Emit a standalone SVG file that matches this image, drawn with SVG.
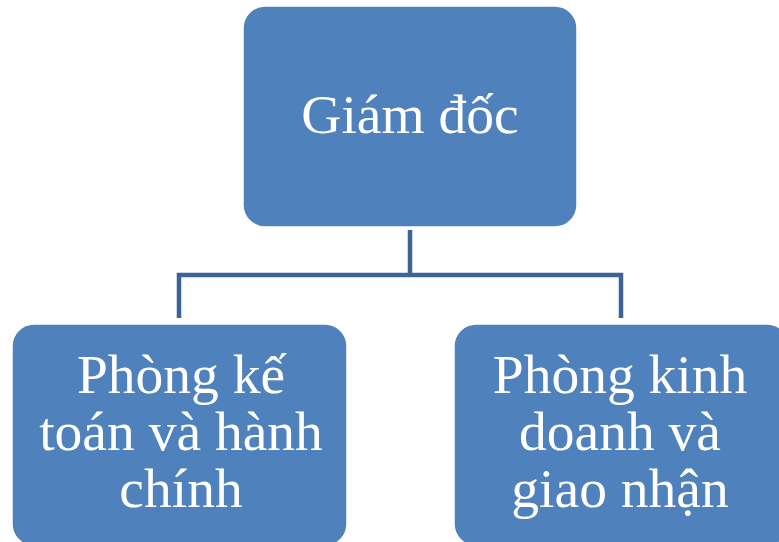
<svg xmlns="http://www.w3.org/2000/svg" width="779" height="542" viewBox="0 0 779 542">
<style>
.box{fill:#4F81BD;stroke:#ffffff;stroke-width:1.5}
.lbl{font-family:"Liberation Serif","Times New Roman",serif;font-size:55.5px;fill:#ffffff;text-anchor:middle}
.conn{fill:none;stroke:#3D6494;stroke-width:4.5;stroke-linejoin:miter}
</style>
<rect width="779" height="542" fill="#ffffff"/>
<g id="connectors">
<path class="conn" d="M410,230 V275 M179,318 V275 H621 V318"/>
</g>
<g id="giam-doc">
<rect class="box" x="243" y="6" width="334" height="221" rx="22"/>
<text class="lbl" x="410" y="133">Giám đốc</text>
</g>
<g id="phong-ke-toan">
<rect class="box" x="12" y="324" width="335" height="222" rx="22"/>
<text class="lbl" x="181" y="393">Phòng kế</text>
<text class="lbl" x="181" y="450">toán và hành</text>
<text class="lbl" x="181" y="507">chính</text>
</g>
<g id="phong-kinh-doanh">
<rect class="box" x="454" y="324" width="335" height="222" rx="22"/>
<text class="lbl" x="620" y="393">Phòng kinh</text>
<text class="lbl" x="620" y="450">doanh và</text>
<text class="lbl" x="620" y="507">giao nhận</text>
</g>
</svg>
